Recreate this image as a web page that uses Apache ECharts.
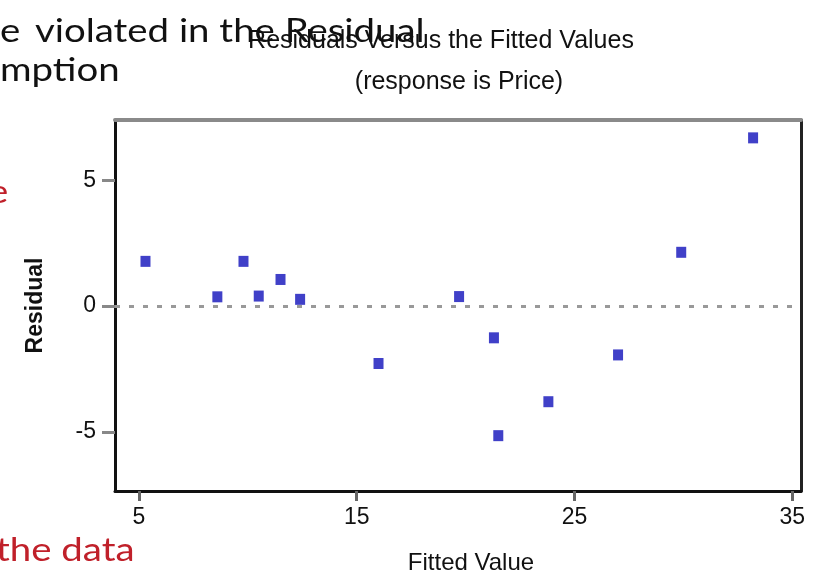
<!DOCTYPE html>
<html>
<head>
<meta charset="utf-8">
<script src="https://cdn.jsdelivr.net/npm/echarts@6/dist/echarts.min.js"></script>
<style>html,body{margin:0;padding:0;background:#fff}#c{width:814px;height:575px}</style>
</head>
<body>
<div id="c"></div>
<script>
var fittedValues = [5.3, 8.6, 9.8, 10.5, 11.5, 12.4, 16.0, 19.7, 21.3, 21.5, 23.8, 27.0, 29.9, 33.2];
var residuals    = [1.78, 0.37, 1.78, 0.40, 1.06, 0.27, -2.28, 0.38, -1.26, -5.15, -3.80, -1.94, 2.14, 6.69];
var xTicks = [5, 15, 25, 35];
var yTicks = [-5, 0, 5];
var titleText = 'Residuals Versus the Fitted Values';
var subtitleText = '(response is Price)';
var xName = 'Fitted Value';
var yName = 'Residual';
var slideLine1 = 'e \u2009violated in the Residual';
var slideLine2 = 'mption';
var slideRed1 = 'e';
var slideRed2 = 'the data';

var points = fittedValues.map(function (v, i) { return [v, residuals[i]]; });
var chartFont = 'Liberation Sans';
var slideFont = '32px Lato';
var slideScale = 1.2;

var chart = echarts.init(document.getElementById('c'), null, {renderer: 'canvas'});
chart.setOption({
  animation: false,
  backgroundColor: '#ffffff',
  title: [
    {text: titleText, left: 436, top: 24, textAlign: 'center',
     textStyle: {fontFamily: chartFont, fontSize: 25, fontWeight: 'normal', color: '#111'}},
    {text: subtitleText, left: 454, top: 65, textAlign: 'center',
     textStyle: {fontFamily: chartFont, fontSize: 25, fontWeight: 'normal', color: '#111'}}
  ],
  grid: {left: 115, right: 13, top: 120, bottom: 84, outerBoundsMode: 'none', containLabel: false},
  xAxis: [{
    type: 'value', min: 3.9, max: 35.4, position: 'bottom',
    splitLine: {show: false},
    axisLine: {show: true, onZero: false, lineStyle: {color: '#111', width: 3}},
    axisTick: {show: true, customValues: xTicks, length: 10, lineStyle: {color: '#666', width: 3}},
    axisLabel: {customValues: xTicks, fontFamily: chartFont, fontSize: 23, color: '#111', margin: 15},
    name: xName, nameLocation: 'middle', nameGap: 60,
    nameTextStyle: {fontFamily: chartFont, fontSize: 24, color: '#111', padding: [0, 0, 0, 26]}
  }, {
    type: 'value', min: 3.9, max: 35.4, position: 'top',
    splitLine: {show: false}, axisTick: {show: false}, axisLabel: {show: false},
    axisLine: {show: true, onZero: false, lineStyle: {color: '#8a8a8a', width: 4}}
  }],
  yAxis: [{
    type: 'value', min: -7.35, max: 7.4, position: 'left',
    splitLine: {show: false},
    axisLine: {show: true, onZero: false, lineStyle: {color: '#111', width: 3}},
    axisTick: {show: true, customValues: yTicks, length: 13, lineStyle: {color: '#888', width: 3}},
    axisLabel: {customValues: yTicks, fontFamily: chartFont, fontSize: 23, color: '#111', margin: 19},
    name: yName, nameLocation: 'middle', nameGap: 68, nameRotate: 90,
    nameTextStyle: {fontFamily: chartFont, fontSize: 23, fontWeight: 'bold', color: '#111'}
  }, {
    type: 'value', min: -7.35, max: 7.4, position: 'right',
    splitLine: {show: false}, axisTick: {show: false}, axisLabel: {show: false},
    axisLine: {show: true, onZero: false, lineStyle: {color: '#222', width: 3}}
  }],
  series: [{
    type: 'scatter', xAxisIndex: 0, yAxisIndex: 0, data: points,
    symbol: 'rect', symbolSize: [10, 11],
    itemStyle: {color: '#4040c8', opacity: 1},
    markLine: {
      silent: true, symbol: 'none', label: {show: false},
      lineStyle: {type: [5, 9], color: '#999', width: 3},
      data: [{yAxis: 0}]
    }
  }],
  graphic: [
    {type: 'text', x: 0, y: 16, z: 100, scaleX: slideScale,
     style: {text: slideLine1, font: slideFont, fill: '#111'}},
    {type: 'text', x: 0, y: 55, z: 100, scaleX: slideScale,
     style: {text: slideLine2, font: slideFont, fill: '#111'}},
    {type: 'text', x: -12, y: 177, z: 100, scaleX: slideScale,
     style: {text: slideRed1, font: slideFont, fill: '#c0202a'}},
    {type: 'text', x: -4, y: 535, z: 100, scaleX: slideScale,
     style: {text: slideRed2, font: slideFont, fill: '#c0202a'}}
  ]
});
</script>
</body>
</html>
